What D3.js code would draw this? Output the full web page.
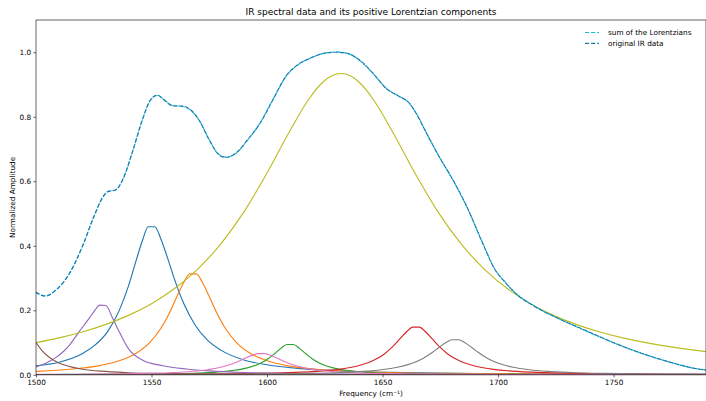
<!DOCTYPE html>
<html>
<head>
<meta charset="utf-8">
<script src="https://cdn.jsdelivr.net/npm/d3@7"></script>
<style>
  html, body { margin: 0; padding: 0; background: #fff; }
  svg { display: block; font-family: "DejaVu Sans", sans-serif; }
</style>
</head>
<body>
<svg id="chart" width="706" height="401"></svg>
<script>
// Frequency axis ticks (cm⁻¹) and amplitude ticks
const xTicks = [1500, 1550, 1600, 1650, 1700, 1750];
const yTicks = [0.0, 0.2, 0.4, 0.6, 0.8, 1.0];

// Measured IR spectrum: [frequency, normalized amplitude]
const irData = [
  [1500,0.255],[1504,0.244],[1508.5,0.262],[1514.5,0.315],[1520,0.397],[1525,0.490],
  [1529,0.552],[1531,0.568],[1534.5,0.573],[1537.5,0.604],[1542,0.697],[1546,0.790],
  [1549.5,0.852],[1552.5,0.867],[1555.5,0.852],[1559,0.834],[1563.5,0.833],[1567,0.821],
  [1570.5,0.790],[1575,0.728],[1578.5,0.687],[1582,0.674],[1586.5,0.687],[1591.5,0.728],
  [1597,0.780],[1602.5,0.852],[1608.5,0.929],[1613,0.960],[1618.5,0.981],[1624.5,0.997],
  [1630,1.000],[1634.5,0.997],[1640,0.976],[1646,0.934],[1651.5,0.888],[1657.5,0.862],
  [1661,0.847],[1664.5,0.811],[1669,0.749],[1674.5,0.676],[1680.5,0.604],[1686.5,0.521],
  [1693.5,0.405],[1698.5,0.328],[1703,0.287],[1707.5,0.253],[1716,0.211],[1727.5,0.170],
  [1739,0.134],[1750.5,0.098],[1762,0.067],[1773.5,0.041],[1785,0.020],[1790,0.014]
];

// Sum of the fitted Lorentzian components
const lorentzSum = [
  [1500,0.256],[1504,0.245],[1508.5,0.262],[1514.5,0.314],[1520,0.396],[1525,0.489],
  [1529,0.551],[1531,0.567],[1534.5,0.574],[1537.5,0.605],[1542,0.697],[1546,0.789],
  [1549.5,0.851],[1552.5,0.866],[1555.5,0.853],[1559,0.835],[1563.5,0.832],[1567,0.820],
  [1570.5,0.791],[1575,0.729],[1578.5,0.688],[1582,0.675],[1586.5,0.686],[1591.5,0.727],
  [1597,0.781],[1602.5,0.853],[1608.5,0.928],[1613,0.959],[1618.5,0.981],[1624.5,0.996],
  [1630,1.001],[1634.5,0.997],[1640,0.975],[1646,0.933],[1651.5,0.889],[1657.5,0.862],
  [1661,0.846],[1664.5,0.812],[1669,0.750],[1674.5,0.677],[1680.5,0.603],[1686.5,0.520],
  [1693.5,0.406],[1698.5,0.329],[1703,0.288],[1707.5,0.254],[1716,0.212],[1727.5,0.170],
  [1739,0.133],[1750.5,0.098],[1762,0.067],[1773.5,0.041],[1785,0.020],[1790,0.015]
];

// Individual Lorentzian components
const peakBlue = [
  [1500,0.028],[1510,0.039],[1520,0.065],[1526,0.095],[1531,0.134],[1536,0.199],[1540,0.275],
  [1543,0.346],[1546,0.415],[1548.6,0.459],[1551.4,0.459],[1554,0.422],[1557,0.361],[1560,0.295],
  [1564,0.220],[1569,0.153],[1574,0.109],[1580,0.0765],[1590,0.046],[1600,0.031],[1615,0.019],
  [1635,0.011],[1660,0.0067],[1700,0.0036],[1750,0.0021],[1790,0.0014]
];
const peakOrange = [
  [1500,0.0108],[1518,0.0194],[1528,0.0292],[1536,0.0434],[1543,0.0654],[1549,0.0983],
  [1554,0.1434],[1558,0.1956],[1561,0.2425],[1564,0.287],[1566.6,0.313],[1569.4,0.313],
  [1572,0.287],[1575,0.2425],[1578,0.1956],[1582,0.1434],[1587,0.0983],[1593,0.0654],
  [1600,0.0434],[1608,0.0292],[1618,0.0194],[1633,0.0118],[1653,0.007],[1678,0.0042],
  [1718,0.0023],[1790,0.001]
];
const peakGreen = [
  [1500,0.0008],[1545,0.0022],[1560,0.0037],[1570,0.0056],[1578,0.0085],[1585,0.0131],
  [1591,0.0206],[1596,0.0321],[1600,0.0475],[1603,0.0638],[1606,0.0819],[1608.6,0.094],
  [1611.4,0.094],[1614,0.0819],[1617,0.0638],[1620,0.0475],[1624,0.0321],[1629,0.0206],
  [1635,0.0131],[1642,0.0085],[1650,0.0056],[1660,0.0037],[1675,0.0022],[1695,0.0013],
  [1740,0.0006],[1790,0.0003]
];
const peakRed = [
  [1500,0.0008],[1540,0.0014],[1580,0.0029],[1600,0.005],[1614.5,0.0081],[1624.5,0.0123],
  [1632.5,0.0184],[1639.5,0.0279],[1645.5,0.0425],[1650.5,0.0631],[1654.5,0.088],
  [1657.5,0.1112],[1660.5,0.1341],[1663.1,0.148],[1665.9,0.148],[1668.5,0.1341],
  [1671.5,0.1112],[1674.5,0.088],[1678.5,0.0631],[1683.5,0.0425],[1689.5,0.0279],
  [1696.5,0.0184],[1704.5,0.0123],[1714.5,0.0081],[1729.5,0.0049],[1749.5,0.0029],[1790,0.0013]
];
const peakPurple = [
  [1500,0.024],[1504,0.035],[1508.7,0.054],[1512,0.073],[1514.4,0.091],[1518.7,0.134],
  [1523,0.175],[1525.5,0.200],[1527.6,0.216],[1530.2,0.215],[1533.2,0.175],[1536,0.134],
  [1540.4,0.077],[1546,0.046],[1555,0.028],[1565,0.018],[1575,0.012],[1590,0.007],
  [1610,0.004],[1640,0.002],[1700,0.001],[1790,0.0003]
];
const peakBrown = [
  [1500,0.100],[1503,0.072],[1506,0.053],[1509,0.040],[1512,0.031],[1516,0.0229],
  [1521,0.0165],[1528,0.0112],[1540,0.0065],[1555,0.0039],[1575,0.0023],[1600,0.0013],
  [1650,0.0006],[1720,0.0003],[1790,0.0002]
];
const peakPink = [
  [1500,0.0012],[1517.5,0.0017],[1532.5,0.0025],[1547.5,0.0042],[1557.5,0.0063],
  [1565.5,0.0094],[1572.5,0.014],[1578.5,0.021],[1583.5,0.0306],[1587.5,0.0415],
  [1590.5,0.0512],[1593.5,0.0603],[1596.1,0.0658],[1598.9,0.0658],[1601.5,0.0603],
  [1604.5,0.0512],[1607.5,0.0415],[1611.5,0.0306],[1616.5,0.021],[1622.5,0.014],
  [1629.5,0.0094],[1637.5,0.0063],[1647.5,0.0042],[1662.5,0.0025],[1677.5,0.0017],
  [1707.5,0.0009],[1747.5,0.0005],[1790,0.0003]
];
const peakGray = [
  [1500,0.0006],[1531.5,0.0008],[1571.5,0.0015],[1596.5,0.0025],[1616.5,0.0042],
  [1631.5,0.007],[1641.5,0.0105],[1649.5,0.0156],[1656.5,0.0234],[1662.5,0.0351],
  [1667.5,0.0509],[1671.5,0.0691],[1674.5,0.0853],[1677.5,0.1005],[1680.1,0.1087],
  [1682.9,0.1087],[1685.5,0.1005],[1688.5,0.0853],[1691.5,0.0691],[1695.5,0.0509],
  [1700.5,0.0351],[1706.5,0.0234],[1713.5,0.0156],[1721.5,0.0105],[1731.5,0.007],
  [1746.5,0.0042],[1766.5,0.0025],[1790,0.0016]
];
const peakOlive = [
  [1500,0.0996],[1510,0.1145],[1520,0.1328],[1530,0.1556],[1540,0.1842],[1550,0.2206],
  [1560,0.2673],[1570,0.3278],[1580,0.406],[1590,0.5053],[1600,0.6258],[1610,0.7576],
  [1618,0.8535],[1624,0.9061],[1628,0.9269],[1632,0.934],[1636,0.9269],[1640,0.9061],
  [1646,0.8535],[1654,0.7576],[1664,0.6258],[1674,0.5053],[1684,0.406],[1694,0.3278],
  [1704,0.2673],[1714,0.2206],[1724,0.1842],[1734,0.1556],[1744,0.1328],[1754,0.1145],
  [1764,0.0996],[1774,0.0873],[1790,0.0718]
];

const components = [
  { data: peakBlue,   color: "#1f77b4" },
  { data: peakOrange, color: "#ff7f0e" },
  { data: peakGreen,  color: "#2ca02c" },
  { data: peakRed,    color: "#d62728" },
  { data: peakPurple, color: "#9467bd" },
  { data: peakBrown,  color: "#8c564b" },
  { data: peakPink,   color: "#e377c2" },
  { data: peakGray,   color: "#7f7f7f" },
  { data: peakOlive,  color: "#bcbd22" }
];

const plot = { left: 36, right: 706, top: 20, bottom: 374.8 };
const dash = "4.2,1.9";

const svg = d3.select("#chart");

const x = d3.scaleLinear().domain([1500, 1790]).range([plot.left, plot.right]);
const y = d3.scaleLinear().domain([0, 1.1]).range([plot.bottom, plot.top]);

svg.append("defs").append("clipPath").attr("id", "plot-clip")
  .append("rect")
  .attr("x", plot.left).attr("y", plot.top)
  .attr("width", plot.right - plot.left).attr("height", plot.bottom - plot.top);

const line = d3.line()
  .x(d => x(d[0]))
  .y(d => y(d[1]))
  .curve(d3.curveMonotoneX);

const g = svg.append("g").attr("clip-path", "url(#plot-clip)");

// component curves
components.forEach(c => {
  g.append("path")
    .attr("d", line(c.data))
    .attr("fill", "none")
    .attr("stroke", c.color)
    .attr("stroke-width", 1.15)
    .attr("stroke-linejoin", "round");
});

// sum of the Lorentzians (dashed cyan) under the original data (dashed blue)
g.append("path")
  .attr("d", line(lorentzSum))
  .attr("fill", "none")
  .attr("stroke", "#17becf")
  .attr("stroke-width", 1.15)
  .attr("stroke-dasharray", dash);

g.append("path")
  .attr("d", line(irData))
  .attr("fill", "none")
  .attr("stroke", "#1f77b4")
  .attr("stroke-width", 1.15)
  .attr("stroke-dasharray", dash)
  .attr("stroke-dashoffset", 0.5);

// axes
const xAxis = svg.append("g")
  .attr("transform", `translate(0,${plot.bottom})`)
  .call(d3.axisBottom(x).tickValues(xTicks).tickFormat(d3.format("d")).tickSize(2.6).tickPadding(2.2));
const yAxis = svg.append("g")
  .attr("transform", `translate(${plot.left},0)`)
  .call(d3.axisLeft(y).tickValues(yTicks).tickFormat(d3.format(".1f")).tickSize(2.6).tickPadding(2.2));

[xAxis, yAxis].forEach(a => {
  a.select(".domain").remove();
  a.selectAll(".tick line").attr("stroke", "#000").attr("stroke-width", 0.6);
  a.selectAll(".tick text")
    .attr("fill", "#000")
    .style("font-family", "'DejaVu Sans', sans-serif")
    .style("font-size", "7.3px");
});

// spines
const spines = svg.append("g").attr("stroke", "#000").attr("stroke-width", 0.6).attr("fill", "none");
spines.append("line").attr("x1", plot.left).attr("x2", plot.left).attr("y1", plot.top).attr("y2", plot.bottom);
spines.append("line").attr("x1", plot.left).attr("x2", plot.right).attr("y1", plot.top).attr("y2", plot.top);
spines.append("line").attr("x1", plot.left).attr("x2", plot.right).attr("y1", plot.bottom).attr("y2", plot.bottom);
spines.append("line").attr("x1", plot.right).attr("x2", plot.right).attr("y1", plot.top).attr("y2", plot.bottom);

// title and axis labels
svg.append("text")
  .attr("x", (plot.left + plot.right) / 2).attr("y", 14.5)
  .attr("text-anchor", "middle")
  .style("font-size", "9px")
  .text("IR spectral data and its positive Lorentzian components");

svg.append("text")
  .attr("x", (plot.left + plot.right) / 2).attr("y", 396)
  .attr("text-anchor", "middle")
  .style("font-size", "7.3px")
  .text("Frequency (cm⁻¹)");

svg.append("text")
  .attr("transform", `translate(14.5,${(plot.top + plot.bottom) / 2}) rotate(-90)`)
  .attr("text-anchor", "middle")
  .style("font-size", "7.3px")
  .text("Normalized Amplitude");

// legend
const legendItems = [
  { label: "sum of the Lorentzians", color: "#17becf" },
  { label: "original IR data", color: "#1f77b4" }
];
const legend = svg.append("g");
legendItems.forEach((item, i) => {
  const ly = 32.5 + i * 10.8;
  legend.append("line")
    .attr("x1", 585).attr("x2", 599).attr("y1", ly).attr("y2", ly)
    .attr("stroke", item.color).attr("stroke-width", 1.15)
    .attr("stroke-dasharray", dash);
  legend.append("text")
    .attr("x", 608).attr("y", ly)
    .attr("dy", "0.35em")
    .style("font-size", "7.3px")
    .text(item.label);
});
</script>
</body>
</html>
